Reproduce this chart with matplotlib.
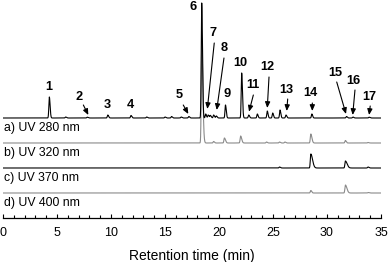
import numpy as np
import matplotlib
matplotlib.use("Agg")
import matplotlib.pyplot as plt
from matplotlib.ticker import MultipleLocator

plt.rcParams['font.family'] = ['Liberation Sans', 'DejaVu Sans']

# ---- data (retention time in min, peak heights in arbitrary units) ----
a_times = [4.29, 5.8, 7.8, 9.7, 11.85, 13.3, 15.0, 15.6, 16.5, 17.2, 18.4, 18.77, 19.0, 19.2, 19.5,
           19.75, 20.6, 22.1, 22.75, 23.55, 24.47, 24.97, 25.65, 26.2, 28.6, 31.8, 32.4, 33.9]
a_heights = [21, 1, 0.8, 3, 2.5, 1, 1, 1.5, 1, 1.5, 115, 4, 3, 2.5, 3,
             2, 13, 45, 3, 4, 7, 5, 8, 3, 4, 1.5, 1, 0.8]
b_times = [18.4, 19.5, 20.5, 22.0, 24.4, 25.6, 26.1, 28.5, 31.7, 33.8]
b_heights = [100, 1.5, 5, 7, 1, 1, 1, 9, 2.5, 0.5]
c_times = [25.6, 28.5, 31.7, 33.8]
c_heights = [1, 14, 7, 1]
d_times = [28.5, 31.7, 33.8]
d_heights = [2.5, 8, 0.5]

trace_names = ['a) UV 280 nm', 'b) UV 320 nm', 'c) UV 370 nm', 'd) UV 400 nm']

peak_labels = [str(i) for i in range(1, 18)]
label_t = [4.19, 7.04, 9.66, 11.82, 16.32, 17.56, 19.47, 20.49, 20.77, 21.94, 23.12, 24.51,
           26.27, 28.49, 30.81, 32.44, 33.92]
label_y = [131, 121, 113, 113, 123, 211, 185, 170, 124, 155, 133, 151, 128, 125, 145, 137, 121]

arrow_tail_t = [7.44, 16.69, 19.56, 20.46, 23.18, 24.63, 26.36, 28.64, 30.9, 32.59, 34.0]
arrow_tail_y = [113, 113, 175, 160, 123, 141, 119, 115, 136, 128, 112]
arrow_tip_t = [7.9, 17.16, 18.92, 19.79, 22.78, 24.47, 26.27, 28.64, 31.76, 32.38, 33.9]
arrow_tip_y = [103, 104, 109, 108, 106.3, 110, 107, 107, 104, 103, 103]

# ---- figure ----
offsets = [100, 75, 50, 25]
colors = ['black', '#8a8a8a', 'black', '#8a8a8a']
t = np.linspace(0, 35, 7001)


def trace(times, heights, tail=0.12):
    y = np.zeros_like(t)
    for t0, h in zip(times, heights):
        s = np.where(t < t0, 0.045, tail if h > 3 else 0.08)
        y += h * np.exp(-0.5 * ((t - t0) / s) ** 2)
    return y


signals = [trace(a_times, a_heights, 0.07), trace(b_times, b_heights, 0.1),
           trace(c_times, c_heights, 0.16), trace(d_times, d_heights, 0.14)]

fig = plt.figure(figsize=(3.88, 2.62), dpi=100)
ax = fig.add_axes([3 / 388, 44 / 262, 378 / 388, 218 / 262])

zs = [5, 3, 3, 3]
for sig, off, col, name, z in zip(signals, offsets, colors, trace_names, zs):
    ax.plot(t, sig + off, color=col, lw=0.8, zorder=z)
    ax.text(0.1, off - 10, name, fontsize=8.8, ha='left', va='center')

for lab, lt, ly in zip(peak_labels, label_t, label_y):
    ax.text(lt, ly, lab, fontsize=9.2, fontweight='bold', ha='center', va='center')

for tt, ty, ht, hy in zip(arrow_tail_t, arrow_tail_y, arrow_tip_t, arrow_tip_y):
    ax.annotate('', xy=(ht, hy), xytext=(tt, ty),
                arrowprops=dict(arrowstyle='-|>,head_length=0.35,head_width=0.15',
                                color='black', lw=0.8, shrinkA=0, shrinkB=0))

ax.set_xlim(0, 35)
ax.set_ylim(0, 218)
for sp in ['left', 'right', 'top']:
    ax.spines[sp].set_visible(False)
ax.spines['bottom'].set_linewidth(0.9)
ax.set_yticks([])
ax.xaxis.set_major_locator(MultipleLocator(5))
ax.xaxis.set_minor_locator(MultipleLocator(1))
ax.tick_params(axis='x', which='major', direction='in', length=3, width=0.8, labelsize=9, pad=6.5)
ax.tick_params(axis='x', which='minor', direction='in', length=2, width=0.8)
ax.set_xlabel('Retention time (min)', fontsize=10, labelpad=7)

fig.savefig('out.png', dpi=100)
